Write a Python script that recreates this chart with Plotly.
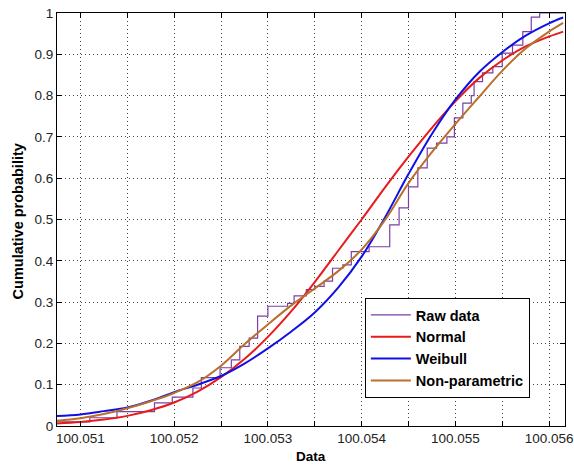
import plotly.graph_objects as go

raw_x = [100.05075, 100.05110, 100.05139, 100.05179, 100.05198, 100.05220, 100.05229, 100.05249,
         100.05261, 100.05270, 100.05280, 100.05289, 100.05300, 100.05321, 100.05328, 100.05341,
         100.05350, 100.05360, 100.05369, 100.05380, 100.05389, 100.05408, 100.05430, 100.05440,
         100.05450, 100.05460, 100.05470, 100.05480, 100.05491, 100.05499, 100.05508, 100.05517,
         100.05520, 100.05529, 100.05540, 100.05550, 100.05561, 100.05572, 100.05581, 100.05590,
         100.05617]
raw_y = [0.01, 0.02, 0.035, 0.056, 0.07, 0.092, 0.117, 0.141, 0.16, 0.193, 0.213, 0.266, 0.29,
         0.297, 0.315, 0.33, 0.338, 0.351, 0.382, 0.39, 0.422, 0.434, 0.487, 0.528, 0.579, 0.625,
         0.673, 0.685, 0.70, 0.746, 0.782, 0.80, 0.834, 0.855, 0.87, 0.903, 0.922, 0.955, 0.99,
         1.0, 1.0]

# Fitted curves
curve_x = [100.05075, 100.05100, 100.05125, 100.05150, 100.05175, 100.05200, 100.05225, 100.05250,
           100.05275, 100.05300, 100.05325, 100.05350, 100.05375, 100.05400, 100.05425, 100.05450,
           100.05475, 100.05500, 100.05525, 100.05550, 100.05575, 100.05600, 100.05615]
normal_y = [0.006, 0.0095, 0.0155, 0.0245, 0.038, 0.0568, 0.0833, 0.1182, 0.162, 0.2157, 0.278,
            0.3485, 0.4243, 0.500, 0.578, 0.652, 0.722, 0.786, 0.8417, 0.885, 0.919, 0.943, 0.955]
weibull_y = [0.024, 0.028, 0.036, 0.045, 0.061, 0.082, 0.100, 0.121, 0.151, 0.188, 0.229, 0.275,
             0.335, 0.41, 0.505, 0.61, 0.707, 0.79, 0.856, 0.905, 0.945, 0.975, 0.989]
nonpar_y = [0.013, 0.019, 0.029, 0.043, 0.060, 0.080, 0.106, 0.146, 0.198, 0.246, 0.292, 0.333,
            0.375, 0.427, 0.499, 0.588, 0.663, 0.731, 0.796, 0.86, 0.914, 0.955, 0.976]

x_tickvals = [100.0510, 100.0515, 100.0520, 100.0525, 100.0530, 100.0535, 100.0540, 100.0545,
              100.0550, 100.0555, 100.0560]
x_ticktext = ["100.051", "", "100.052", "", "100.053", "", "100.054", "", "100.055", "", "100.056"]
y_tickvals = [0, 0.1, 0.2, 0.3, 0.4, 0.5, 0.6, 0.7, 0.8, 0.9, 1.0]
y_ticktext = ["0", "0.1", "0.2", "0.3", "0.4", "0.5", "0.6", "0.7", "0.8", "0.9", "1"]

FONT = "Liberation Sans, Arial, sans-serif"

fig = go.Figure()
fig.add_trace(go.Scatter(x=raw_x, y=raw_y, mode="lines", name="Raw data",
                         line=dict(color="#7a3fa8", width=1.2, shape="hv")))
fig.add_trace(go.Scatter(x=curve_x, y=normal_y, mode="lines", name="Normal",
                         line=dict(color="#e81a1a", width=2, shape="spline")))
fig.add_trace(go.Scatter(x=curve_x, y=weibull_y, mode="lines", name="Weibull",
                         line=dict(color="#1010e6", width=2, shape="spline")))
fig.add_trace(go.Scatter(x=curve_x, y=nonpar_y, mode="lines", name="Non-parametric",
                         line=dict(color="#b8702a", width=2, shape="spline")))

axis_common = dict(showline=True, linecolor="black", linewidth=1, mirror="ticks",
                   ticks="inside", ticklen=5, tickcolor="black", automargin=False,
                   showgrid=True, gridcolor="#444444", gridwidth=1, griddash="1px,3px",
                   zeroline=False, tickfont=dict(family=FONT, size=13.5, color="#222222"))

fig.update_xaxes(range=[100.05075, 100.05617], tickvals=x_tickvals, ticktext=x_ticktext,
                 **axis_common)
fig.update_yaxes(range=[0, 1], tickvals=y_tickvals, ticktext=y_ticktext, **axis_common)

fig.add_annotation(text="<b>Data</b>", xref="paper", yref="paper", x=0.5, y=-0.075,
                   xanchor="center", yanchor="middle", showarrow=False,
                   font=dict(family=FONT, size=13.5, color="black"))
fig.add_annotation(text="<b>Cumulative probability</b>", xref="paper", yref="paper",
                   x=-0.077, y=0.495, xanchor="center", yanchor="middle", showarrow=False,
                   textangle=-90, font=dict(family=FONT, size=14.5, color="black"))

fig.update_layout(
    width=574, height=466,
    margin=dict(l=57, r=9, t=13, b=40),
    paper_bgcolor="white", plot_bgcolor="white",
    showlegend=True,
    legend=dict(x=0.606, y=0.31, xanchor="left", yanchor="top",
                bgcolor="white", bordercolor="black", borderwidth=1,
                font=dict(family=FONT, size=14.5, color="black", weight="bold"),
                tracegroupgap=0, itemwidth=40),
)

fig.write_html("out.html")
